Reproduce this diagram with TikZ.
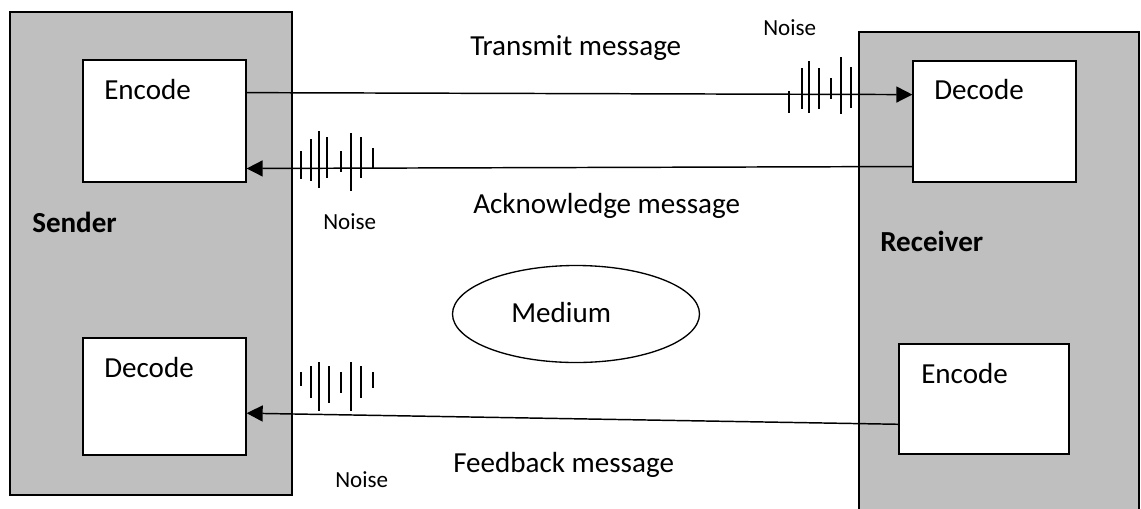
\documentclass[tikz,border=0pt]{standalone}
\usepackage{fontspec}
\setmainfont{Carlito}
\usetikzlibrary{arrows.meta,shapes.geometric,fit,calc}

\definecolor{partygray}{RGB}{191,191,191}

\tikzset{
  party/.style={draw, fill=partygray, line width=1pt, inner sep=0pt},
  codebox/.style={draw, fill=white, line width=1pt, inner sep=0pt},
  msg/.style={line width=1.1pt, -{Triangle[length=12pt,width=12pt]}},
  noiseline/.style={line width=1.8pt},
  lbl/.style={anchor=base west, inner sep=0pt, font=\fontsize{21.8}{26}\selectfont},
  smalllbl/.style={anchor=base west, inner sep=0pt, font=\fontsize{17.3}{21}\selectfont},
}

\begin{document}
\begin{tikzpicture}[x=0.75pt,y=0.75pt,yscale=-1,xscale=1]
			\useasboundingbox (0,0) rectangle (1141,508);
			
			%Shape: Sender and receiver
			\node [party, fit={(10,12) (292,495)}] (sender) {};
			\node [party, fit={(859,32) (1139,515)}] (receiver) {};
			
			%Shape: Encode / decode boxes
			\node [codebox, fit={(83,60) (246,182)}] (senc) {};
			\node [codebox, fit={(83,338) (246,455)}] (sdec) {};
			\node [codebox, fit={(913,61) (1076,182)}] (rdec) {};
			\node [codebox, fit={(899,344) (1069,454)}] (renc) {};
			
			%Shape: Ellipse
			\node [draw, ellipse, line width=1pt, minimum width=247*0.75pt, minimum height=97*0.75pt] (medium) at (576,314) {};
			
			%Straight Lines: messages
			\draw [msg] ($(senc.north east)!0.27!(senc.south east)$) -- ($(rdec.north west)!0.28!(rdec.south west)$);
			\draw [msg] ($(rdec.north west)!0.868!(rdec.south west)$) -- ($(senc.north east)!0.885!(senc.south east)$);
			\draw [msg] ($(renc.north west)!0.727!(renc.south west)$) -- ($(sdec.north east)!0.641!(sdec.south east)$);
			
			%Straight Lines: noise
			\foreach \x/\ya/\yb in {789/91/113, 801.7/68/109, 809/61/113, 818.7/68/109, 830.7/78/99, 841/57/114, 850.7/67/108}
				\draw [noiseline] (\x,\ya) -- (\x,\yb);
			\foreach \x/\ya/\yb in {301/151/179, 311/139/181, 319/131/188, 327/137/178, 341/151/172, 351/133/191, 361/137/178, 373/148/169}
				\draw [noiseline] (\x,\ya) -- (\x,\yb);
			\foreach \x/\ya/\yb in {301/372/386, 311/366/398, 319/362/411, 329/366/403, 341/372/393, 351/362/411, 361/366/398, 373/372/388}
				\draw [noiseline] (\x,\ya) -- (\x,\yb);
			
			% Text Node
			\node [lbl] (t-senc) at (104,99) {Encode};
			\node [lbl] (t-sdec) at (104,377) {Decode};
			\node [lbl] (t-rdec) at (934,99) {Decode};
			\node [lbl] (t-renc) at (921,383) {Encode};
			\node [lbl] (t-sender) at (32,232) {\textbf{Sender}};
			\node [lbl] (t-receiver) at (880,251) {\textbf{Receiver}};
			\node [lbl] (t-medium) at (511,322) {Medium};
			% Text Node
			\node [lbl] (t-transmit) at (470,55) {Transmit message};
			\node [lbl] (t-ack) at (473,213) {Acknowledge message};
			\node [lbl] (t-feedback) at (453,472) {Feedback message};
			% Text Node
			\node [smalllbl] (t-noise1) at (763,35) {Noise};
			\node [smalllbl] (t-noise2) at (323,229) {Noise};
			\node [smalllbl] (t-noise3) at (335,487) {Noise};
			
\end{tikzpicture}
\end{document}
